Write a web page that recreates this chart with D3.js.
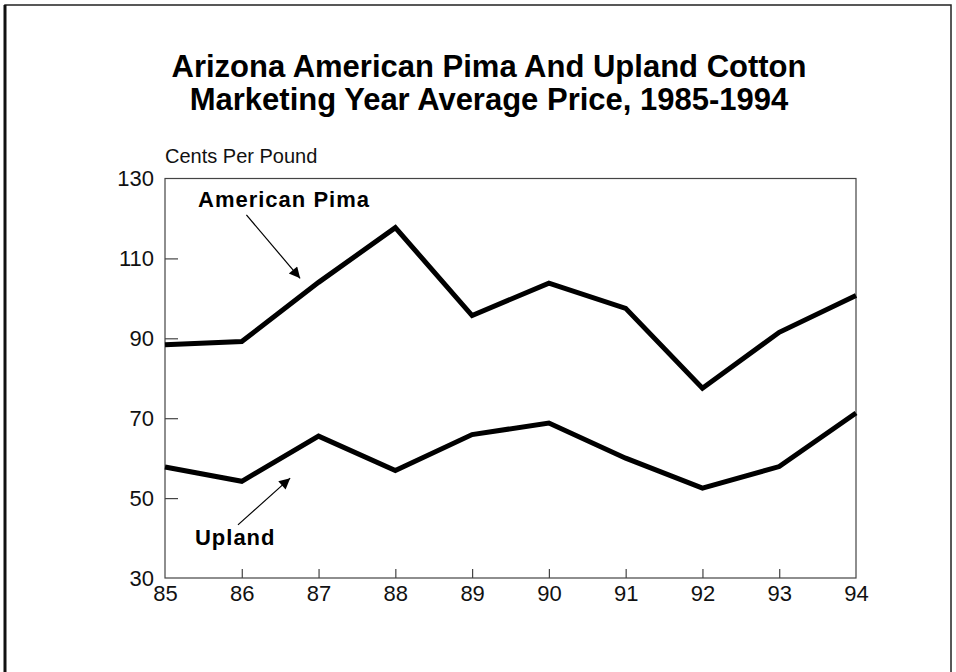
<!DOCTYPE html>
<html>
<head>
<meta charset="utf-8">
<script src="https://cdn.jsdelivr.net/npm/d3@7"></script>
<style>
  html, body { margin: 0; padding: 0; background: #fff; }
  svg { display: block; font-family: "Liberation Sans", Arial, sans-serif; }
</style>
</head>
<body>
<div id="chart"></div>
<script>
// data (marketing year, cents per pound)
const years = [85, 86, 87, 88, 89, 90, 91, 92, 93, 94];
const pima = [88.4, 89.2, 104, 117.7, 95.7, 103.8, 97.5, 77.5, 91.5, 100.7];
const upland = [57.8, 54.2, 65.5, 56.9, 65.9, 68.8, 60, 52.5, 57.9, 71.3];
const yTicks = [30, 50, 70, 90, 110, 130];
const titleLines = ['Arizona American Pima And Upland Cotton', 'Marketing Year Average Price, 1985-1994'];

const width = 956;
const height = 672;
const margin = { top: 178.5, right: 100, bottom: 94, left: 165 };

const svg = d3.select('#chart')
  .append('svg')
  .attr('width', width)
  .attr('height', height);

// outer frame (left edge heavier, like the scan)
svg.append('rect')
  .attr('x', 5).attr('y', 5)
  .attr('width', 946).attr('height', height + 10)
  .attr('fill', 'none')
  .attr('stroke', '#222')
  .attr('stroke-width', 1.5);
svg.append('line')
  .attr('x1', 5).attr('x2', 5)
  .attr('y1', 5).attr('y2', height)
  .attr('stroke', '#111')
  .attr('stroke-width', 3);

// title
svg.append('g')
  .selectAll('text')
  .data(titleLines)
  .enter().append('text')
  .attr('x', 489)
  .attr('y', (d, i) => 77 + i * 33)
  .attr('text-anchor', 'middle')
  .attr('font-size', '31px')
  .attr('font-weight', 'bold')
  .attr('fill', '#000')
  .text(d => d);

const x = d3.scaleLinear()
  .domain([85, 94])
  .range([margin.left, width - margin.right]);

const y = d3.scaleLinear()
  .domain([30, 130])
  .range([height - margin.bottom, margin.top]);

// plot frame
svg.append('rect')
  .attr('x', x(85)).attr('y', y(130))
  .attr('width', x(94) - x(85)).attr('height', y(30) - y(130))
  .attr('fill', 'none')
  .attr('stroke', '#444')
  .attr('stroke-width', 1.2);

// y axis, ticks pointing inward
const yAxis = svg.append('g')
  .attr('transform', `translate(${x(85)},0)`)
  .call(d3.axisLeft(y).tickValues(yTicks).tickSize(-13).tickPadding(11).tickFormat(d3.format('d')));
yAxis.select('.domain').remove();
yAxis.selectAll('.tick line')
  .attr('stroke', '#444')
  .attr('stroke-width', 1.2)
  .filter(d => d === 30 || d === 130).remove();
yAxis.selectAll('.tick text')
  .attr('font-size', '22px')
  .attr('fill', '#111')
  .attr('font-family', '"Liberation Sans", Arial, sans-serif');

// x axis, ticks pointing inward
const xAxis = svg.append('g')
  .attr('transform', `translate(0,${y(30)})`)
  .call(d3.axisBottom(x).tickValues(years).tickSize(-9).tickPadding(7).tickFormat(d3.format('d')));
xAxis.select('.domain').remove();
xAxis.selectAll('.tick line')
  .attr('stroke', '#444')
  .attr('stroke-width', 1.2)
  .filter(d => d === 85 || d === 94).remove();
xAxis.selectAll('.tick text')
  .attr('font-size', '22px')
  .attr('fill', '#111')
  .attr('font-family', '"Liberation Sans", Arial, sans-serif');

// unit label
svg.append('text')
  .attr('x', x(85))
  .attr('y', 163)
  .attr('font-size', '20px')
  .attr('fill', '#111')
  .text('Cents Per Pound');

// series lines
const line = d3.line()
  .x((d, i) => x(years[i]))
  .y(d => y(d));

[pima, upland].forEach(series => {
  svg.append('path')
    .datum(series)
    .attr('fill', 'none')
    .attr('stroke', '#000')
    .attr('stroke-width', 5)
    .attr('stroke-linejoin', 'miter')
    .attr('d', line);
});

// arrowhead
svg.append('defs').append('marker')
  .attr('id', 'arrow')
  .attr('viewBox', '0 0 10 10')
  .attr('refX', 10).attr('refY', 5)
  .attr('markerWidth', 14).attr('markerHeight', 11)
  .attr('markerUnits', 'userSpaceOnUse')
  .attr('orient', 'auto')
  .append('path')
  .attr('d', 'M0,0L10,5L0,10Z')
  .attr('fill', '#000');

// annotations, placed in data space
const labels = [
  { text: 'American Pima', lx: 85.43, ly: 122.9, ax1: 86.06, ay1: 120.9, ax2: 86.76, ay2: 105 },
  { text: 'Upland', lx: 85.39, ly: 38.3, ax1: 85.95, ay1: 43.3, ax2: 86.63, ay2: 55 }
];

labels.forEach(l => {
  svg.append('text')
    .attr('x', x(l.lx))
    .attr('y', y(l.ly))
    .attr('font-size', '22px')
    .attr('font-weight', 'bold')
    .attr('letter-spacing', '1px')
    .attr('fill', '#000')
    .text(l.text);

  svg.append('line')
    .attr('x1', x(l.ax1)).attr('y1', y(l.ay1))
    .attr('x2', x(l.ax2)).attr('y2', y(l.ay2))
    .attr('stroke', '#000')
    .attr('stroke-width', 1.2)
    .attr('marker-end', 'url(#arrow)');
});
</script>
</body>
</html>
